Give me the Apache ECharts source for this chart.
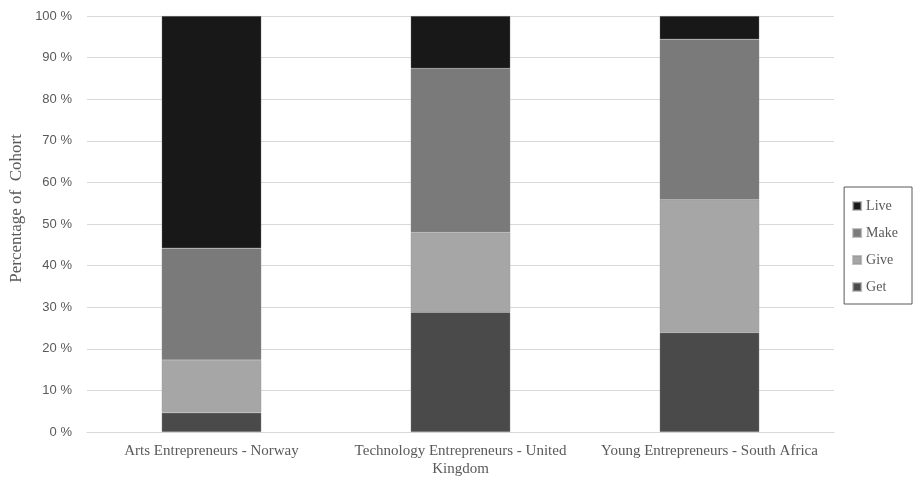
<!DOCTYPE html>
<html>
<head>
<meta charset="utf-8">
<script src="https://cdn.jsdelivr.net/npm/echarts@6/dist/echarts.min.js"></script>
<style>
  html, body { margin: 0; padding: 0; background: #fff; }
  #chart { width: 914px; height: 479px; }
</style>
</head>
<body>
<div id="chart"></div>
<script>
// Cohort groups along the x axis
const categories = [
  'Arts Entrepreneurs - Norway',
  'Technology Entrepreneurs - United\nKingdom',
  'Young Entrepreneurs - South Africa'
];

// Share of each cohort (percent), stacked bottom to top
const getValues  = [4.6, 28.8, 23.9];
const giveValues = [12.7, 19.2, 31.9];
const makeValues = [26.9, 39.4, 38.6];
const liveValues = [55.8, 12.6, 5.6];

const yTicks = [0, 10, 20, 30, 40, 50, 60, 70, 80, 90, 100];
const yTitle = 'Percentage of  Cohort';

const colors = {
  Get: '#4a4a4a',
  Give: '#a6a6a6',
  Make: '#7a7a7a',
  Live: '#181818'
};

const serif = '"Liberation Serif", "DejaVu Serif", serif';
const sans = '"Liberation Sans", "DejaVu Sans", sans-serif';

function barSeries(name, values) {
  return {
    name: name,
    type: 'bar',
    stack: 'cohort',
    data: values,
    barCategoryGap: '60%',
    itemStyle: { color: colors[name], borderColor: 'rgba(150,150,150,0.6)', borderWidth: 0.5 },
    emphasis: { disabled: true }
  };
}

const chart = echarts.init(document.getElementById('chart'), null, { renderer: 'canvas' });
chart.setOption({
  animation: false,
  grid: { left: 87, right: 80, top: 16, bottom: 47 },
  graphic: [{
    type: 'text',
    left: 8,
    top: 134,
    rotation: Math.PI / 2,
    style: {
      text: yTitle,
      fontFamily: serif,
      fontSize: 17,
      fill: '#595959'
    }
  }],
  legend: {
    orient: 'vertical',
    right: 2,
    top: 187,
    data: ['Live', 'Make', 'Give', 'Get'],
    icon: 'rect',
    itemWidth: 8,
    itemHeight: 8,
    itemGap: 13,
    padding: [12, 14, 10, 8],
    borderColor: '#595959',
    borderWidth: 1,
    textStyle: { fontFamily: serif, fontSize: 14, color: '#595959' }
  },
  xAxis: {
    type: 'category',
    data: categories,
    axisLine: { lineStyle: { color: '#d9d9d9' } },
    axisTick: { show: false },
    axisLabel: {
      fontFamily: serif,
      fontSize: 15,
      color: '#595959',
      margin: 10,
      lineHeight: 18,
      interval: 0
    }
  },
  yAxis: {
    type: 'value',
    min: yTicks[0],
    max: yTicks[yTicks.length - 1],
    interval: 10,
    axisLine: { show: false },
    axisTick: { show: false },
    splitLine: { lineStyle: { color: '#d9d9d9', width: 1 } },
    axisLabel: {
      fontFamily: sans,
      fontSize: 13,
      color: '#595959',
      margin: 15,
      formatter: v => v + ' %'
    }
  },
  series: [
    barSeries('Get', getValues),
    barSeries('Give', giveValues),
    barSeries('Make', makeValues),
    barSeries('Live', liveValues)
  ]
});
</script>
</body>
</html>
